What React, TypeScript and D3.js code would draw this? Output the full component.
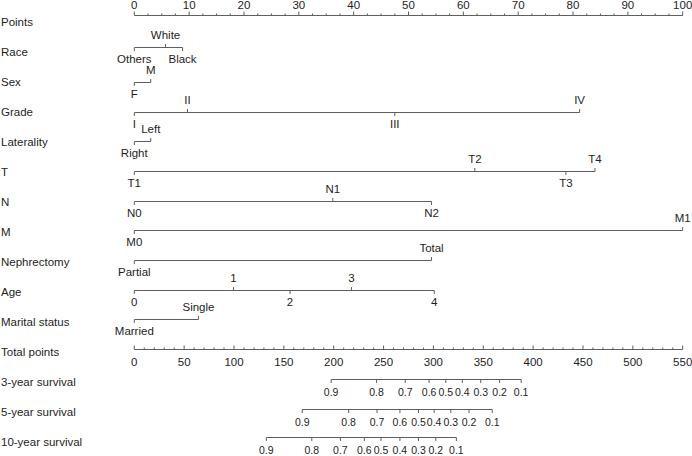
import React from "react";
import * as d3 from "d3";

// row labels (left column)
const rowNames = [
  "Points", "Race", "Sex", "Grade", "Laterality", "T", "N", "M",
  "Nephrectomy", "Age", "Marital status", "Total points",
  "3-year survival", "5-year survival", "10-year survival",
];

// predictor scales: level labels, points, label side
const raceLevels = ["Others", "White", "Black"];
const racePoints = [0, 5.7, 8.8];
const raceSide = ["below", "above", "below"];

const sexLevels = ["F", "M"];
const sexPoints = [0, 3.0];
const sexSide = ["below", "above"];

const gradeLevels = ["I", "II", "III", "IV"];
const gradePoints = [0, 9.7, 47.5, 81.2];
const gradeSide = ["below", "above", "below", "above"];

const lateralityLevels = ["Right", "Left"];
const lateralityPoints = [0, 3.0];
const lateralitySide = ["below", "above"];

const tLevels = ["T1", "T2", "T3", "T4"];
const tPoints = [0, 62.1, 78.7, 84.0];
const tSide = ["below", "above", "below", "above"];

const nLevels = ["N0", "N1", "N2"];
const nPoints = [0, 36.2, 54.2];
const nSide = ["below", "above", "below"];

const mLevels = ["M0", "M1"];
const mPoints = [0, 100];
const mSide = ["below", "above"];

const nephLevels = ["Partial", "Total"];
const nephPoints = [0, 54.2];
const nephSide = ["below", "above"];

const ageLevels = ["0", "1", "2", "3", "4"];
const agePoints = [0, 18.1, 28.4, 39.6, 54.7];
const ageSide = ["below", "above", "below", "above", "below"];

const maritalLevels = ["Married", "Single"];
const maritalPoints = [0, 11.7];
const maritalSide = ["below", "above"];

// survival probability scales (in total points)
const survProbs = ["0.9", "0.8", "0.7", "0.6", "0.5", "0.4", "0.3", "0.2", "0.1"];
const surv3Points = [197.4, 243, 271.7, 295.7, 312.4, 329, 347.4, 366.4, 388];
const surv5Points = [168.4, 215, 243.4, 266.4, 285, 300.7, 317.4, 335.7, 359];
const surv10Points = [132.4, 178, 206.7, 230.7, 247.4, 266.4, 285, 302.4, 323];

const W = 692, H = 456;
const LINE = "#5f5f5f";
const TEXT = "#1e1e1e";
const FONT = "'Liberation Sans', Arial, sans-serif";

const xPts = d3.scaleLinear().domain([0, 100]).range([134.3, 682.7]);
const xTot = d3.scaleLinear().domain([0, 550]).range([134.3, 682.7]);

const rowY = (i: number) => 22 + i * 30;

const predictors = [
  { levels: raceLevels, pts: racePoints, side: raceSide, y: 47 },
  { levels: sexLevels, pts: sexPoints, side: sexSide, y: 81.5 },
  { levels: gradeLevels, pts: gradePoints, side: gradeSide, y: 111.5 },
  { levels: lateralityLevels, pts: lateralityPoints, side: lateralitySide, y: 140.5 },
  { levels: tLevels, pts: tPoints, side: tSide, y: 171 },
  { levels: nLevels, pts: nPoints, side: nSide, y: 200.5 },
  { levels: mLevels, pts: mPoints, side: mSide, y: 230 },
  { levels: nephLevels, pts: nephPoints, side: nephSide, y: 260 },
  { levels: ageLevels, pts: agePoints, side: ageSide, y: 289.5 },
  { levels: maritalLevels, pts: maritalPoints, side: maritalSide, y: 319 },
];

const survAxes = [
  { pts: surv3Points, y: 379 },
  { pts: surv5Points, y: 409 },
  { pts: surv10Points, y: 437 },
];

export default function App() {
  const pointsMajor = d3.range(0, 101, 10);
  const pointsMinor = d3.range(0, 100.1, 2.5).filter(d => d % 10 !== 0);
  const totalMajor = d3.range(0, 551, 50);
  const totalMinor = d3.range(0, 551, 10).filter(d => d % 50 !== 0);

  return (
    <div style={{ position: "absolute", left: 0, top: 0 }}>
      <svg width={W} height={H} style={{ display: "block", background: "#fff" }}
        fontFamily={FONT} fill={TEXT}>
        {rowNames.map((n, i) => (
          <text key={n} x={1} y={rowY(i)} dy="0.35em" fontSize={11.5}>{n}</text>
        ))}

        {/* Points axis */}
        <g stroke={LINE} strokeWidth={1}>
          <line x1={xPts(0)} x2={xPts(100)} y1={15.5} y2={15.5} />
          {pointsMajor.map(d => (
            <line key={d} x1={xPts(d)} x2={xPts(d)} y1={15.5} y2={11.5} />
          ))}
          {pointsMinor.map(d => (
            <line key={d} x1={xPts(d)} x2={xPts(d)} y1={15.5} y2={13.5} />
          ))}
        </g>
        {pointsMajor.map(d => (
          <text key={d} x={xPts(d)} y={5} dy="0.35em" fontSize={11.5} textAnchor="middle">{d}</text>
        ))}

        {/* predictor scales */}
        {predictors.map((p, i) => {
          const y = Math.round(p.y) + 0.5;
          return (
            <g key={i}>
              <line x1={xPts(d3.min(p.pts)!)} x2={xPts(d3.max(p.pts)!)} y1={y} y2={y}
                stroke={LINE} strokeWidth={1} />
              {p.pts.map((v, j) => {
                const up = p.side[j] === "above";
                return (
                  <g key={j}>
                    <line x1={xPts(v)} x2={xPts(v)} y1={y} y2={up ? y - 3.5 : y + 3.5}
                      stroke={LINE} strokeWidth={1} />
                    <text x={xPts(v)} y={up ? y - 12.5 : y + 11} dy="0.35em"
                      fontSize={11.5} textAnchor="middle">{p.levels[j]}</text>
                  </g>
                );
              })}
            </g>
          );
        })}

        {/* Total points axis */}
        <g stroke={LINE} strokeWidth={1}>
          <line x1={xTot(0)} x2={xTot(550)} y1={349.5} y2={349.5} />
          {totalMajor.map(d => (
            <line key={d} x1={xTot(d)} x2={xTot(d)} y1={349.5} y2={345.5} />
          ))}
          {totalMinor.map(d => (
            <line key={d} x1={xTot(d)} x2={xTot(d)} y1={349.5} y2={347.5} />
          ))}
        </g>
        {totalMajor.map(d => (
          <text key={d} x={xTot(d)} y={362} dy="0.35em" fontSize={11.5} textAnchor="middle">{d}</text>
        ))}

        {/* survival axes */}
        {survAxes.map((a, i) => {
          const y = Math.round(a.y) + 0.5;
          return (
            <g key={i}>
              <line x1={xTot(a.pts[0])} x2={xTot(a.pts[a.pts.length - 1])} y1={y} y2={y}
                stroke={LINE} strokeWidth={1} />
              {a.pts.map((v, j) => (
                <g key={j}>
                  <line x1={xTot(v)} x2={xTot(v)} y1={y} y2={y + 3.5} stroke={LINE} strokeWidth={1} />
                  <text x={xTot(v)} y={y + 13} dy="0.35em" fontSize={10.5} textAnchor="middle">
                    {survProbs[j]}
                  </text>
                </g>
              ))}
            </g>
          );
        })}
      </svg>
    </div>
  );
}
